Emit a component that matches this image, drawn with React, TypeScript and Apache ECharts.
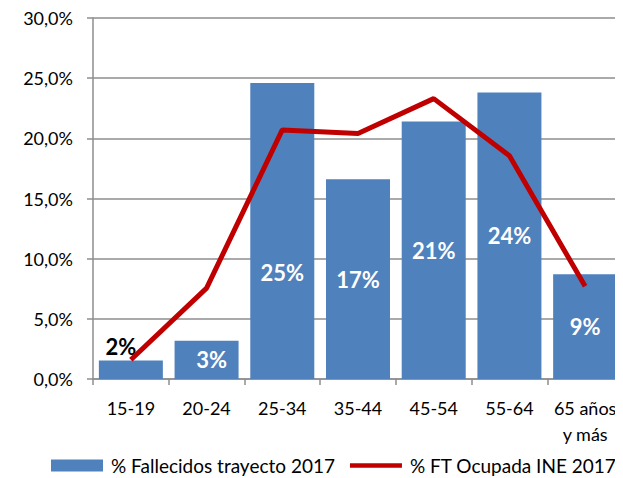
import React, { useEffect, useRef } from "react";
import * as echarts from "echarts";

const categories = ["15-19", "20-24", "25-34", "35-44", "45-54", "55-64", "65 años\ny más"];
const fallecidos = [1.54, 3.18, 24.6, 16.6, 21.4, 23.8, 8.7];
const ocupada = [1.6, 7.55, 20.7, 20.4, 23.3, 18.56, 7.7];
const seriesNames = ["% Fallecidos trayecto 2017", "% FT Ocupada INE 2017"];

const FONT = "Lato";

export default function App() {
  const ref = useRef<HTMLDivElement>(null);
  useEffect(() => {
    const chart = echarts.init(ref.current!, null, { renderer: "svg" });
    const barData = fallecidos.map((v, i) => {
      if (i === 0) {
        return {
          value: v,
          label: { position: "top", color: "#000", offset: [-10, 2] },
        };
      }
      if (i === 1) return { value: v, label: { offset: [5, 0] } };
      if (i === 2) return { value: v, label: { offset: [0, 42] } };
      return v;
    });
    chart.setOption({
      animation: false,
      textStyle: { fontFamily: FONT },
      grid: { left: 93, top: 18, width: 537, height: 361 },
      legend: {
        left: 51,
        top: 456,
        padding: 0,
        itemWidth: 52,
        itemHeight: 12,
        itemGap: 15,
        textStyle: { fontFamily: FONT, fontSize: 19, color: "#000", padding: [0, 0, 0, 3] },
        data: [
          { name: seriesNames[0], icon: "rect" },
          { name: seriesNames[1], icon: "path://M0 0H55V5H0Z" },
        ],
      },
      xAxis: {
        type: "category",
        data: categories,
        axisLine: { lineStyle: { color: "#8E8E8E", width: 1.5 } },
        axisTick: { show: true, length: 6, lineStyle: { color: "#8E8E8E", width: 1.5 } },
        axisLabel: {
          interval: 0,
          margin: 16,
          fontFamily: FONT,
          fontSize: 18,
          color: "#000",
          lineHeight: 26,
        },
      },
      yAxis: {
        type: "value",
        min: 0,
        max: 30,
        interval: 5,
        axisLine: { show: true, lineStyle: { color: "#8E8E8E", width: 1.5 } },
        axisTick: { show: true, length: 6, lineStyle: { color: "#8E8E8E", width: 1.5 } },
        splitLine: { lineStyle: { color: "#8E8E8E", width: 1.5 } },
        axisLabel: {
          margin: 20,
          fontFamily: FONT,
          fontSize: 18,
          color: "#000",
          formatter: (v: number) => v.toFixed(1).replace(".", ",") + "%",
        },
      },
      series: [
        {
          name: seriesNames[0],
          type: "bar",
          data: barData,
          barWidth: 64,
          itemStyle: { color: "#4F81BD" },
          label: {
            show: true,
            position: "inside",
            color: "#fff",
            fontFamily: FONT,
            fontWeight: "bold",
            fontSize: 22,
            formatter: (p: any) => Math.round(p.value) + "%",
          },
        },
        {
          name: seriesNames[1],
          type: "line",
          data: ocupada,
          symbol: "none",
          showSymbol: false,
          lineStyle: { color: "#C00000", width: 5 },
          itemStyle: { color: "#C00000" },
          z: 5,
        },
      ],
    });
    return () => chart.dispose();
  }, []);
  return <div ref={ref} style={{ width: 623, height: 478, marginLeft: -8, marginTop: -8 }} />;
}
